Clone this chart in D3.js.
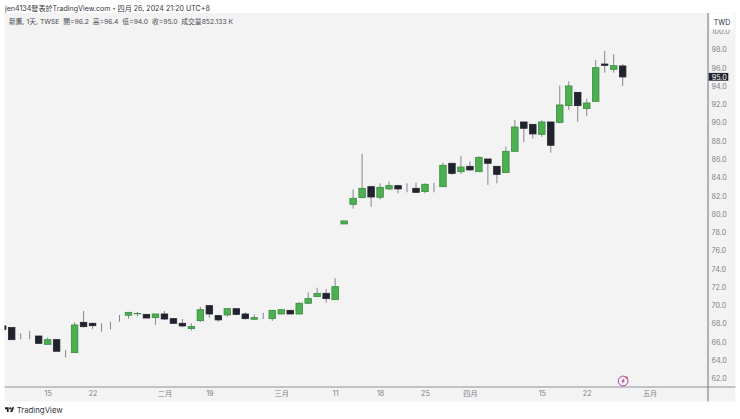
<!DOCTYPE html>
<html>
<head>
<meta charset="utf-8">
<script src="https://cdnjs.cloudflare.com/ajax/libs/d3/7.8.5/d3.min.js"></script>
<style>
  html, body { margin: 0; padding: 0; background: #fff; }
  svg { display: block; }
  text { font-family: Inter, "Noto Sans CJK TC", sans-serif; }
</style>
</head>
<body>
<svg id="chart" width="740" height="419"></svg>
<script>
// trading days, the last three have no candle yet
const dates = [
  '01-08','01-09','01-10','01-11','01-12','01-15','01-16','01-17','01-18','01-19',
  '01-22','01-23','01-24','01-25','01-26','01-29','01-30','01-31','02-01','02-02',
  '02-05','02-15','02-16','02-19','02-20','02-21','02-22','02-23','02-26','02-27',
  '02-29','03-01','03-04','03-05','03-06','03-07','03-08','03-11','03-12','03-13',
  '03-14','03-15','03-18','03-19','03-20','03-21','03-22','03-25','03-26','03-27',
  '03-28','03-29','04-01','04-02','04-03','04-08','04-09','04-10','04-11','04-12',
  '04-15','04-16','04-17','04-18','04-19','04-22','04-23','04-24','04-25','04-26',
  '04-29','04-30','05-01'
];
const opens = [
  67.75,67.57,66.33,66.76,66.65,65.74,66.25,64.76,64.83,68.15,
  68.04,68.04,67.93,68.58,68.92,69.08,69.02,68.66,69.06,68.55,
  68.04,67.46,68.33,69.97,68.88,68.95,69.64,69.06,68.48,68.55,
  68.55,69.06,69.46,69.06,70.23,70.96,71.32,70.63,78.91,81.06,
  81.79,82.99,81.83,82.74,83.10,82.74,82.81,82.45,83.40,82.99,
  85.55,84.63,85.22,84.63,86.02,85.22,84.53,86.86,90.07,89.81,
  88.72,90.07,90.03,91.86,93.31,91.53,92.33,96.41,95.83,96.2
];
const highs = [
  67.75,67.57,66.95,67.20,66.65,66.47,66.25,65.12,68.15,69.39,
  68.11,68.04,68.22,68.95,69.24,69.28,69.05,69.06,69.39,68.55,
  68.51,68.04,69.86,69.97,68.88,69.64,69.64,69.24,69.02,69.17,
  69.46,69.53,69.46,70.34,71.43,71.94,71.76,72.96,79.24,82.70,
  86.57,83.10,83.36,83.54,83.21,83.36,83.43,83.36,83.40,85.62,
  85.55,86.35,85.73,86.31,86.02,85.22,87.37,90.29,90.07,89.81,
  90.25,90.07,94.04,94.52,93.31,92.62,96.85,97.84,97.50,96.4
];
const lows = [
  67.38,66.25,66.30,66.30,65.78,65.70,64.98,64.32,64.83,67.60,
  67.42,67.13,67.38,68.22,68.55,68.84,68.60,67.86,68.40,67.98,
  67.60,67.24,68.19,68.66,68.22,68.77,68.95,68.44,68.40,68.51,
  68.30,69.02,69.06,69.02,70.15,70.96,70.30,70.63,78.91,80.59,
  81.72,80.80,81.60,82.63,82.26,82.37,82.34,82.26,82.37,82.96,
  84.27,84.38,84.74,84.63,83.18,83.36,84.53,86.86,87.88,88.25,
  88.43,86.71,89.92,91.38,90.07,90.73,92.33,95.47,95.47,94.0
];
const closes = [
  67.38,66.25,66.33,66.76,65.85,66.25,64.98,64.76,67.86,67.67,
  67.78,68.04,67.93,68.58,69.24,69.12,68.62,69.06,68.51,68.04,
  67.75,67.68,69.53,69.06,68.41,69.64,69.02,68.55,68.66,68.55,
  69.46,69.53,69.06,70.23,70.74,71.32,70.74,72.05,79.24,81.72,
  82.81,81.86,82.92,83.10,82.74,82.74,82.37,83.25,83.40,85.33,
  84.45,85.14,84.82,86.20,85.55,84.34,86.86,89.52,89.38,88.76,
  90.07,87.52,91.93,94.01,91.86,92.15,96.01,96.27,96.23,95.0
];

const priceTicks = d3.range(62, 101, 2);
const dateTicks = ['01-15','01-22','02-01','02-19','03-01','03-11','03-18','03-25','04-01','04-15','04-22','05-01'];
const dateLabels = ['15','22','二月','19','三月','11','18','25','四月','15','22','五月'];

const titleText = 'jen4134發表於TradingView.com・四月 26, 2024 21:20 UTC+8';
const legendText = '新鷹, 1天, TWSE  開=96.2  高=96.4  低=94.0  收=95.0  成交量852.133 K';
const lastPrice = 95.0;

const UP = '#4caf50', UP_EDGE = '#3a8a3f', DOWN = '#20222d', WICK = '#85878d', TICK = '#7d8087';

const svg = d3.select('#chart');

const panelLeft = 4.5, plotRight = 708, axisRight = 735.5, panelTop = 13, plotBottom = 387, axisBottom = 401.5;

const x = d3.scalePoint().domain(dates).range([2.7, 2.7 + 72 * 8.985]);
const y = d3.scaleLinear().domain([62, 98]).range([378.5, 49.5]);

// panels
svg.append('rect').attr('x', panelLeft).attr('y', panelTop)
  .attr('width', axisRight - panelLeft).attr('height', axisBottom - panelTop).attr('fill', '#f3f3f3');

svg.append('clipPath').attr('id', 'plot').append('rect')
  .attr('x', panelLeft).attr('y', panelTop).attr('width', plotRight - panelLeft).attr('height', plotBottom - panelTop);

const candles = svg.append('g').attr('clip-path', 'url(#plot)')
  .selectAll('g').data(closes).join('g');

candles.append('line')
  .attr('x1', (d, i) => x(dates[i])).attr('x2', (d, i) => x(dates[i]))
  .attr('y1', (d, i) => y(highs[i])).attr('y2', (d, i) => y(lows[i]))
  .attr('stroke', WICK).attr('stroke-width', 1);

candles.append('rect')
  .attr('x', (d, i) => x(dates[i]) - 3.25)
  .attr('width', 6.5)
  .attr('y', (d, i) => y(Math.max(opens[i], closes[i])))
  .attr('height', (d, i) => Math.abs(y(opens[i]) - y(closes[i])))
  .attr('fill', (d, i) => closes[i] > opens[i] ? UP : DOWN)
  .attr('stroke', (d, i) => closes[i] > opens[i] ? UP_EDGE : DOWN)
  .attr('stroke-width', 0.8);

// axis lines
svg.append('line').attr('x1', panelLeft).attr('x2', axisRight).attr('y1', plotBottom).attr('y2', plotBottom)
  .attr('stroke', '#8f9196').attr('stroke-width', 1);
svg.append('line').attr('x1', plotRight).attr('x2', plotRight).attr('y1', panelTop).attr('y2', axisBottom)
  .attr('stroke', '#6f7177').attr('stroke-width', 1);

// price axis
const yAxis = svg.append('g').attr('transform', `translate(${plotRight},0)`)
  .call(d3.axisRight(y).tickValues(priceTicks).tickSize(0).tickPadding(3.5).tickFormat(d3.format('.1f')));
yAxis.select('.domain').remove();
yAxis.selectAll('text').attr('font-size', 7.2).attr('fill', TICK);
yAxis.attr('font-family', null).attr('font-size', null);

// date axis
const labelOf = d3.scaleOrdinal().domain(dateTicks).range(dateLabels);
const xAxis = svg.append('g').attr('transform', `translate(0,${plotBottom})`)
  .call(d3.axisBottom(x).tickValues(dateTicks).tickSize(0).tickPadding(4).tickFormat(labelOf));
xAxis.select('.domain').remove();
xAxis.selectAll('text').attr('font-size', 7.2).attr('fill', TICK);
xAxis.attr('font-family', null).attr('font-size', null);

// currency box hides the top tick
svg.append('rect').attr('x', 710).attr('y', 13.5).attr('width', 23.5).attr('height', 16).attr('fill', '#fff');
svg.append('text').attr('x', 722).attr('y', 24.5).attr('text-anchor', 'middle')
  .attr('font-size', 7).attr('fill', '#2a2e39').text('TWD');

// last price tag
svg.append('rect').attr('x', 708.7).attr('y', y(lastPrice) - 4).attr('width', 19.6).attr('height', 7.8).attr('fill', DOWN);
svg.append('text').attr('x', 711.7).attr('y', y(lastPrice) + 2.6)
  .attr('font-size', 7.2).attr('fill', '#fff').text(d3.format('.1f')(lastPrice));

// title and legend
svg.append('text').attr('x', 5).attr('y', 10.5).attr('font-size', 7.1).attr('fill', '#33353c').text(titleText);
svg.append('text').attr('x', 9).attr('y', 23.5).attr('font-size', 6.8).attr('fill', '#4a4d55')
  .style('white-space', 'pre').text(legendText);

// bolt marker
const bolt = svg.append('g').attr('transform', `translate(${x('05-01') - 26.5},381)`);
bolt.append('circle').attr('r', 4.9).attr('fill', 'none').attr('stroke', '#a6349a').attr('stroke-width', 0.9);
bolt.append('path').attr('d', 'M1.2,-3L-1.8,0.6H-0.2L-1.2,3L1.8,-0.6H0.2Z').attr('fill', '#a6349a');
bolt.append('circle').attr('cx', 3.5).attr('cy', -3.4).attr('r', 1.1).attr('fill', '#e53935');

// TradingView mark
const mark = svg.append('g').attr('transform', 'translate(5,406.3) scale(0.26)').attr('fill', '#1c1e25');
mark.append('path').attr('d', 'M14 22H7V11H0V4h14v18zM28 22h-8l7.5-18h8L28 22z');
mark.append('circle').attr('cx', 20).attr('cy', 8).attr('r', 4);
svg.append('text').attr('x', 16.7).attr('y', 413).attr('font-size', 7.8).attr('fill', '#33353c').text('TradingView');
</script>
</body>
</html>
